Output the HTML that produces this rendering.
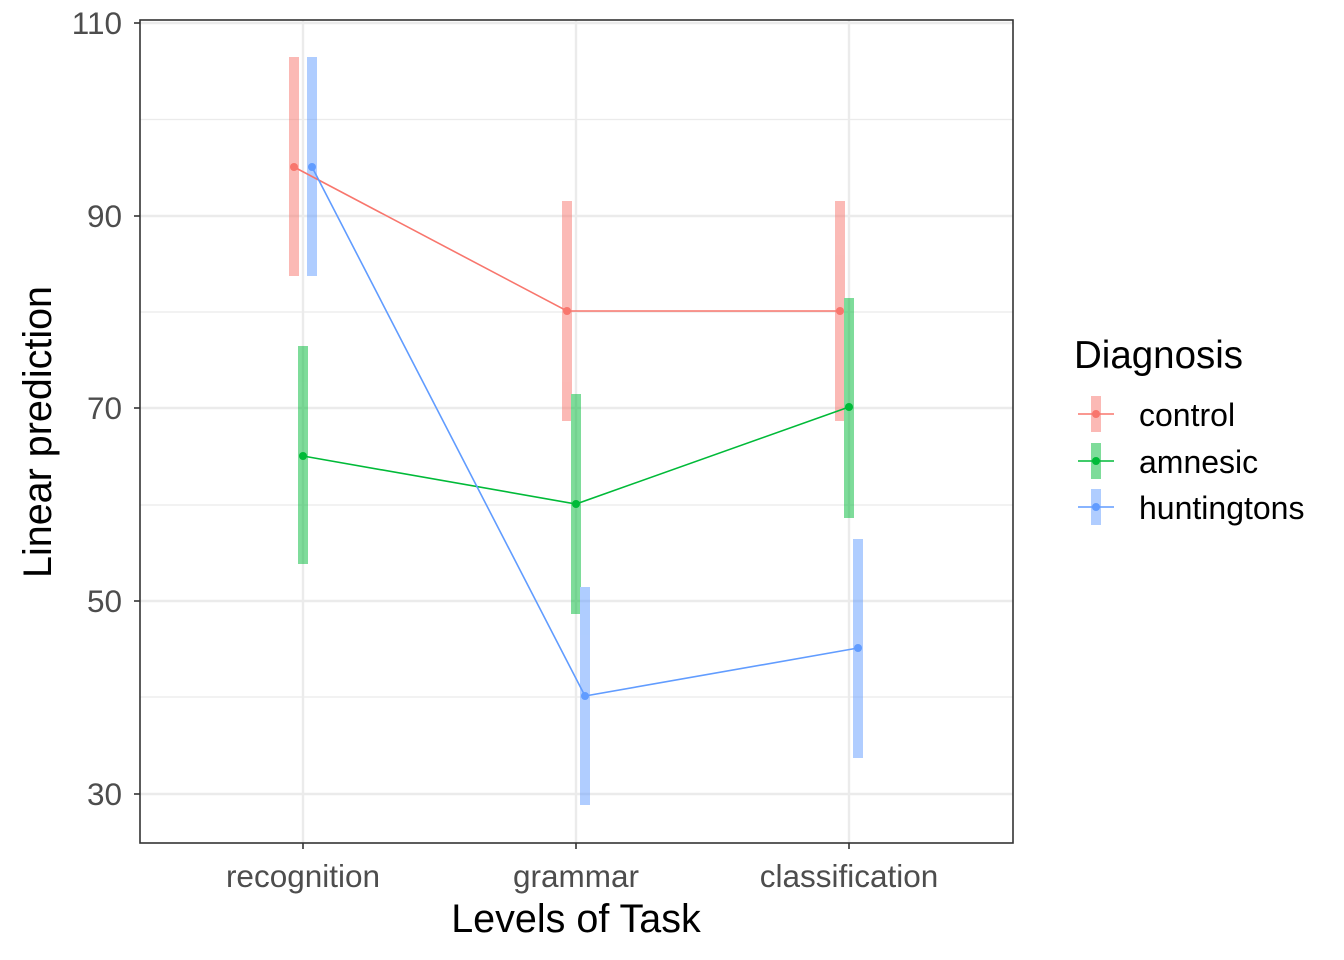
<!DOCTYPE html>
<html><head><style>body{margin:0;background:#fff}svg{display:block}</style></head><body>
<svg width="1344" height="960" xmlns="http://www.w3.org/2000/svg" font-family="Liberation Sans, Arial, sans-serif">
<rect width="1344" height="960" fill="#fff"/>
<g stroke="#ebebeb" stroke-width="1.2">
<line x1="140" x2="1013" y1="119.5" y2="119.5"/><line x1="140" x2="1013" y1="312" y2="312"/>
<line x1="140" x2="1013" y1="505" y2="505"/><line x1="140" x2="1013" y1="697" y2="697"/>
</g>
<g stroke="#ebebeb" stroke-width="2.4">
<line x1="140" x2="1013" y1="23" y2="23"/><line x1="140" x2="1013" y1="216" y2="216"/>
<line x1="140" x2="1013" y1="408" y2="408"/><line x1="140" x2="1013" y1="601" y2="601"/>
<line x1="140" x2="1013" y1="794" y2="794"/>
<line x1="303" x2="303" y1="20" y2="843"/><line x1="576" x2="576" y1="20" y2="843"/><line x1="849" x2="849" y1="20" y2="843"/>
</g>
<g opacity="0.5">
<rect x="289" y="57" width="10" height="219" fill="#F8766D"/>
<rect x="562" y="201" width="10" height="220" fill="#F8766D"/>
<rect x="835" y="201" width="10" height="220" fill="#F8766D"/>
<rect x="298" y="346" width="10" height="218" fill="#00BA38"/>
<rect x="571" y="394" width="10" height="220" fill="#00BA38"/>
<rect x="844" y="298" width="10" height="220" fill="#00BA38"/>
<rect x="307" y="57" width="10" height="219" fill="#619CFF"/>
<rect x="580" y="587" width="10" height="218" fill="#619CFF"/>
<rect x="853" y="539" width="10" height="219" fill="#619CFF"/>
</g>
<polyline points="294,167 567,311 840,311" fill="none" stroke="#F8766D" stroke-width="1.6"/>
<polyline points="303,456 576,504 849,407" fill="none" stroke="#00BA38" stroke-width="1.6"/>
<polyline points="312,167 585,696 858,648" fill="none" stroke="#619CFF" stroke-width="1.6"/>
<g fill="#F8766D"><circle cx="294" cy="167" r="4"/><circle cx="567" cy="311" r="4"/><circle cx="840" cy="311" r="4"/></g>
<g fill="#00BA38"><circle cx="303" cy="456" r="4"/><circle cx="576" cy="504" r="4"/><circle cx="849" cy="407" r="4"/></g>
<g fill="#619CFF"><circle cx="312" cy="167" r="4"/><circle cx="585" cy="696" r="4"/><circle cx="858" cy="648" r="4"/></g>
<rect x="140" y="20" width="873" height="823" fill="none" stroke="#333" stroke-width="1.6"/>
<g stroke="#333" stroke-width="1.6">
<line x1="134" x2="140" y1="23" y2="23"/><line x1="134" x2="140" y1="216" y2="216"/><line x1="134" x2="140" y1="408" y2="408"/><line x1="134" x2="140" y1="601" y2="601"/><line x1="134" x2="140" y1="794" y2="794"/>
<line x1="303" x2="303" y1="843" y2="849"/><line x1="576" x2="576" y1="843" y2="849"/><line x1="849" x2="849" y1="843" y2="849"/>
</g>
<g fill="#4d4d4d" font-size="31.5" text-anchor="end">
<text x="122" y="34">110</text><text x="122" y="227">90</text><text x="122" y="419">70</text><text x="122" y="612">50</text><text x="122" y="805">30</text>
</g>
<g fill="#4d4d4d" font-size="31.5" text-anchor="middle">
<text x="303" y="887">recognition</text><text x="576" y="887">grammar</text><text x="849" y="887">classification</text>
</g>
<text x="576" y="932" font-size="39.5" text-anchor="middle">Levels of Task</text>
<text transform="translate(51,432) rotate(-90)" font-size="39.5" text-anchor="middle">Linear prediction</text>
<text x="1074" y="368" font-size="38.5">Diagnosis</text>
<g opacity="0.5"><rect x="1091" y="396" width="10" height="36" fill="#F8766D"/><rect x="1091" y="443" width="10" height="36" fill="#00BA38"/><rect x="1091" y="489" width="10" height="36" fill="#619CFF"/></g>
<line x1="1078" x2="1114" y1="414" y2="414" stroke="#F8766D" stroke-width="1.6"/><circle cx="1096" cy="414" r="4" fill="#F8766D"/>
<line x1="1078" x2="1114" y1="461" y2="461" stroke="#00BA38" stroke-width="1.6"/><circle cx="1096" cy="461" r="4" fill="#00BA38"/>
<line x1="1078" x2="1114" y1="507" y2="507" stroke="#619CFF" stroke-width="1.6"/><circle cx="1096" cy="507" r="4" fill="#619CFF"/>
<g font-size="32"><text x="1139" y="426">control</text><text x="1139" y="473">amnesic</text><text x="1139" y="519">huntingtons</text></g>
</svg>
</body></html>
